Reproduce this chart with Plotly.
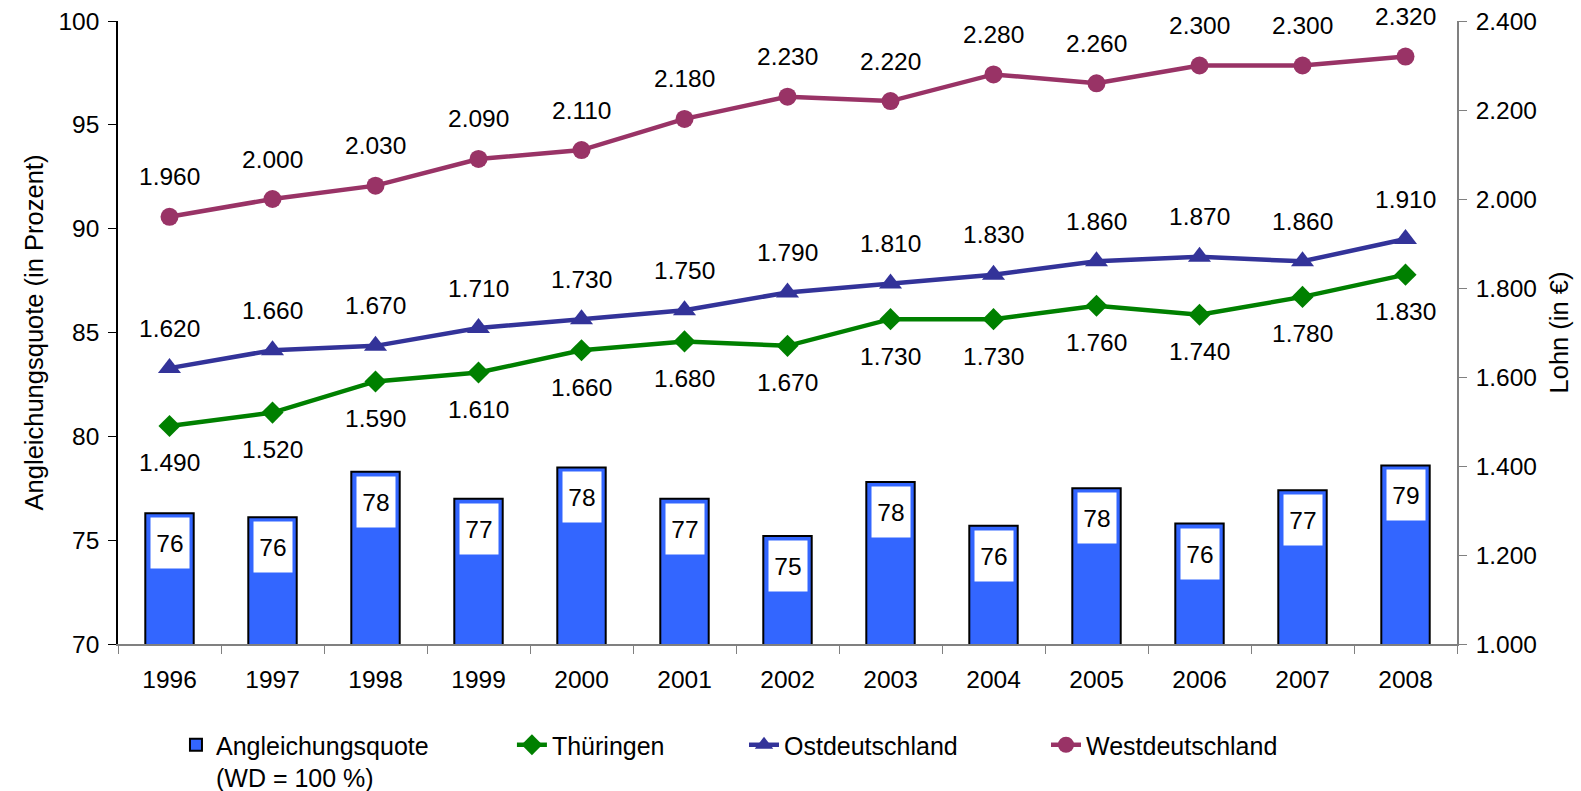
import plotly.graph_objects as go

years = ["1996", "1997", "1998", "1999", "2000", "2001", "2002",
         "2003", "2004", "2005", "2006", "2007", "2008"]
quote = [76.3, 76.1, 78.3, 77.0, 78.5, 77.0, 75.2, 77.8, 75.7, 77.5, 75.8, 77.4, 78.6]
quote_labels = [76, 76, 78, 77, 78, 77, 75, 78, 76, 78, 76, 77, 79]
thueringen = [1490, 1520, 1590, 1610, 1660, 1680, 1670, 1730, 1730, 1760, 1740, 1780, 1830]
ost = [1620, 1660, 1670, 1710, 1730, 1750, 1790, 1810, 1830, 1860, 1870, 1860, 1910]
west = [1960, 2000, 2030, 2090, 2110, 2180, 2230, 2220, 2280, 2260, 2300, 2300, 2320]

FONT = "Liberation Sans, Arial, sans-serif"
FS = 24.5
FS_BIG = 25.5


def de(v):
    return f"{v:,}".replace(",", ".")


fig = go.Figure()
fig.add_trace(go.Bar(
    x=years, y=quote, name="Angleichungsquote<br>(WD = 100 %)",
    marker=dict(color="#3366FF", line=dict(color="black", width=2)),
    width=0.47, legend="legend",
))

lines = [
    ("Thüringen", thueringen, "#008000", "diamond", 17, -37, "legend2"),
    ("Ostdeutschland", ost, "#333399", "triangle-up", 20, 40, "legend3"),
    ("Westdeutschland", west, "#993366", "circle", 18, 40, "legend4"),
]
annotations = []
for name, vals, color, symbol, size, shift, leg in lines:
    fig.add_trace(go.Scatter(
        x=years, y=vals, name=name, yaxis="y2", mode="lines+markers",
        line=dict(color=color, width=4.5),
        marker=dict(symbol=symbol, size=size, color=color),
        legend=leg,
    ))
    for i, v in enumerate(vals):
        annotations.append(dict(
            x=i, y=v, xref="x", yref="y2", text=de(v), showarrow=False,
            yshift=shift, font=dict(family=FONT, size=FS, color="black"),
        ))

for i, (v, lab) in enumerate(zip(quote, quote_labels)):
    annotations.append(dict(
        x=i, y=v, xref="x", yref="y", text=str(lab), showarrow=False,
        yanchor="top", yshift=-4, width=36, height=48, valign="middle",
        bgcolor="white", font=dict(family=FONT, size=FS, color="black"),
    ))


def legend_at(x):
    return dict(
        orientation="h", xref="container", yref="container",
        x=x, xanchor="left", y=0.0872, yanchor="top",
        valign="top", font=dict(size=25), bgcolor="rgba(0,0,0,0)",
    )


fig.update_layout(
    width=1581, height=791,
    margin=dict(l=118, r=124, t=21, b=147),
    plot_bgcolor="white", paper_bgcolor="white",
    font=dict(family=FONT, size=FS, color="black"),
    separators=",.",
    showlegend=True,
    legend=legend_at(0.1113),
    legend2=legend_at(0.3238),
    legend3=legend_at(0.4706),
    legend4=legend_at(0.6616),
    xaxis=dict(
        type="category", range=[-0.5, len(years) - 0.5], automargin=False,
        showline=True, linecolor="#808080", linewidth=1.5,
        ticks="outside", tickson="boundaries", ticklen=8, tickcolor="#808080",
        showgrid=False, ticklabelstandoff=13, tickangle=0,
    ),
    yaxis=dict(
        range=[70, 100], dtick=5, automargin=False,
        showline=True, linecolor="black", linewidth=1.5,
        ticks="outside", ticklen=8, tickcolor="black", showgrid=False, zeroline=False,
        ticklabelstandoff=4,
        title=dict(text="Angleichungsquote (in Prozent)", standoff=8,
                   font=dict(size=FS_BIG)),
    ),
    yaxis2=dict(
        range=[1000, 2400], dtick=200, tickformat=",d", overlaying="y", side="right",
        automargin=False, showline=True, linecolor="#808080", linewidth=1.5,
        ticks="outside", ticklen=8, tickcolor="#808080", showgrid=False,
        zeroline=False, ticklabelstandoff=4,
        title=dict(text="Lohn (in €)", standoff=14, font=dict(size=FS_BIG)),
    ),
    annotations=annotations,
)

# the page body has a default 8px margin that would shift the figure
fig.write_html(
    "out.html",
    config={"displayModeBar": False},
    post_script="document.body.style.margin = '0';",
)
